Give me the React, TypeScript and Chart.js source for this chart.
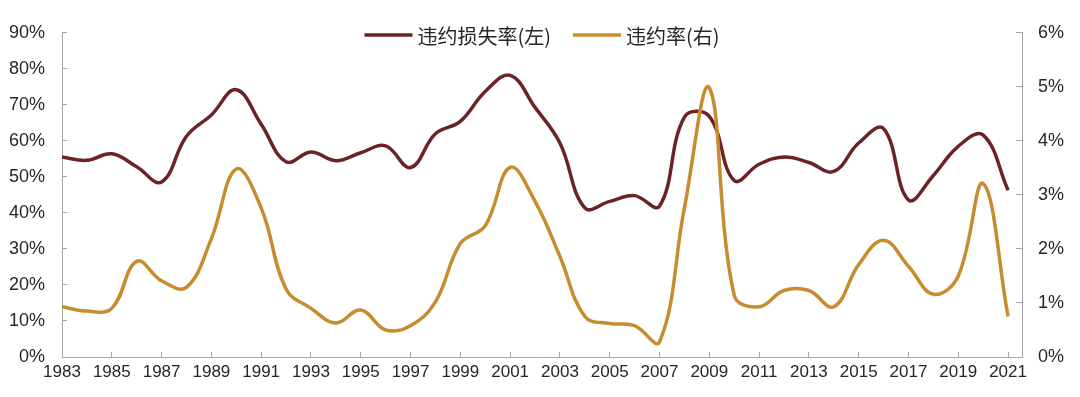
import React, { useEffect, useRef } from "react";
import { Chart, registerables } from "chart.js";

Chart.register(...registerables);

const years: number[] = [
  1983, 1984, 1985, 1986, 1987, 1988, 1989, 1990, 1991, 1992,
  1993, 1994, 1995, 1996, 1997, 1998, 1999, 2000, 2001, 2002,
  2003, 2004, 2005, 2006, 2007, 2008, 2009, 2010, 2011, 2012,
  2013, 2014, 2015, 2016, 2017, 2018, 2019, 2020, 2021,
];

// 违约损失率 (left axis, %)
const lgdValues: number[] = [
  55.5, 54.6, 56.4, 52.8, 48.6, 61.3, 67.2, 74.2, 64.6, 54.2,
  56.9, 54.5, 56.7, 58.6, 52.6, 62.0, 65.4, 73.7, 78.2, 69.3,
  59.4, 41.4, 43.2, 44.8, 41.9, 66.6, 66.8, 49.0, 53.5, 55.5,
  54.0, 51.5, 59.4, 63.4, 43.6, 50.4, 58.5, 61.6, 46.3,
];

// 违约率 (right axis, %)
const defaultValues: number[] = [
  0.93, 0.85, 0.90, 1.77, 1.41, 1.29, 2.19, 3.48, 2.76, 1.26,
  0.90, 0.63, 0.87, 0.50, 0.58, 1.02, 2.10, 2.43, 3.51, 2.88,
  1.86, 0.75, 0.62, 0.58, 0.28, 2.76, 4.98, 1.14, 0.93, 1.23,
  1.23, 0.93, 1.71, 2.16, 1.68, 1.16, 1.50, 3.21, 0.75,
];

const xTickYears: number[] = [
  1983, 1985, 1987, 1989, 1991, 1993, 1995, 1997, 1999, 2001,
  2003, 2005, 2007, 2009, 2011, 2013, 2015, 2017, 2019, 2021,
];
const leftTicks: number[] = [0, 10, 20, 30, 40, 50, 60, 70, 80, 90];
const rightTicks: number[] = [0, 1, 2, 3, 4, 5, 6];

const seriesLabels: string[] = ["违约损失率(左)", "违约率(右)"];
const seriesColors: string[] = ["#6B2327", "#C88C30"];

const FONT = "'Liberation Sans', Arial, 'Noto Sans CJK SC', sans-serif";
const CJK_FONT = "'Noto Sans CJK SC', 'Liberation Sans', sans-serif";
const AXIS_COLOR = "#A6A6A6";
const TEXT_COLOR = "#262626";

const legendPlugin = {
  id: "innerLegend",
  afterDraw(chart: any) {
    const ctx = chart.ctx;
    const area = chart.chartArea;
    const lineLen = 48;
    const textGap = 5;
    const itemGap = 22;
    ctx.save();
    ctx.font = `20px ${CJK_FONT}`;
    const items = chart.data.datasets.map((ds: any) => ({
      label: ds.label,
      color: ds.borderColor,
      w: ctx.measureText(ds.label).width,
    }));
    const total =
      items.reduce((s: number, it: any) => s + lineLen + textGap + it.w, 0) +
      itemGap * (items.length - 1);
    let x = (area.left + area.right) / 2 - total / 2;
    const y = 35;
    items.forEach((it: any) => {
      ctx.strokeStyle = it.color;
      ctx.lineWidth = 3.5;
      ctx.beginPath();
      ctx.moveTo(x, y);
      ctx.lineTo(x + lineLen, y);
      ctx.stroke();
      ctx.fillStyle = TEXT_COLOR;
      ctx.textBaseline = "middle";
      ctx.textAlign = "left";
      ctx.fillText(it.label, x + lineLen + textGap, y + 1);
      x += lineLen + textGap + it.w + itemGap;
    });
    ctx.restore();
  },
};

export default function App() {
  const ref = useRef<HTMLCanvasElement | null>(null);

  useEffect(() => {
    if (!ref.current) return;
    const chart = new Chart(ref.current, {
      type: "line",
      data: {
        datasets: [
          {
            label: seriesLabels[0],
            data: years.map((y, i) => ({ x: y, y: lgdValues[i] })),
            borderColor: seriesColors[0],
            backgroundColor: seriesColors[0],
            borderWidth: 3.5,
            pointRadius: 0,
            tension: 0.4,
            yAxisID: "y",
            order: 2,
          },
          {
            label: seriesLabels[1],
            data: years.map((y, i) => ({ x: y, y: defaultValues[i] })),
            borderColor: seriesColors[1],
            backgroundColor: seriesColors[1],
            borderWidth: 3.5,
            pointRadius: 0,
            tension: 0.4,
            yAxisID: "y1",
            order: 1,
          },
        ],
      },
      options: {
        animation: false,
        responsive: false,
        devicePixelRatio: 1,
        layout: { padding: { top: 23, left: 0, right: 0, bottom: 0 } },
        plugins: {
          legend: { display: false },
          tooltip: { enabled: false },
        },
        scales: {
          x: {
            type: "linear",
            min: 1983,
            max: 2021.56,
            afterBuildTicks: (scale: any) => {
              scale.ticks = xTickYears.map((v) => ({ value: v }));
            },
            afterFit: (scale: any) => {
              scale.height = 40;
            },
            grid: {
              display: true,
              drawOnChartArea: false,
              drawTicks: true,
              tickLength: -5,
              color: AXIS_COLOR,
            },
            border: { display: true, color: AXIS_COLOR, width: 1 },
            ticks: {
              autoSkip: false,
              maxRotation: 0,
              padding: 10,
              color: TEXT_COLOR,
              font: { family: FONT, size: 17 },
              callback: (v: any) => String(v),
            },
          },
          y: {
            type: "linear",
            position: "left",
            min: 0,
            max: 90,
            afterBuildTicks: (scale: any) => {
              scale.ticks = leftTicks.map((v) => ({ value: v }));
            },
            afterFit: (scale: any) => {
              scale.width = 62;
            },
            grid: {
              display: true,
              drawOnChartArea: false,
              drawTicks: true,
              tickLength: -5,
              color: AXIS_COLOR,
            },
            border: { display: true, color: AXIS_COLOR, width: 1 },
            ticks: {
              padding: 22,
              color: TEXT_COLOR,
              font: { family: FONT, size: 18 },
              callback: (v: any) => v + "%",
            },
          },
          y1: {
            type: "linear",
            position: "right",
            min: 0,
            max: 6,
            afterBuildTicks: (scale: any) => {
              scale.ticks = rightTicks.map((v) => ({ value: v }));
            },
            afterFit: (scale: any) => {
              scale.width = 58;
            },
            grid: {
              display: true,
              drawOnChartArea: false,
              drawTicks: true,
              tickLength: -6,
              color: AXIS_COLOR,
            },
            border: { display: true, color: AXIS_COLOR, width: 1 },
            ticks: {
              padding: 22,
              color: TEXT_COLOR,
              font: { family: FONT, size: 18 },
              callback: (v: any) => v + "%",
            },
          },
        },
      },
      plugins: [legendPlugin],
    } as any);
    return () => chart.destroy();
  }, []);

  return (
    <div style={{ position: "fixed", left: 0, top: 0, width: 1080, height: 397, background: "#fff" }}>
      <canvas ref={ref} width={1080} height={397} style={{ width: 1080, height: 397 }} />
    </div>
  );
}
